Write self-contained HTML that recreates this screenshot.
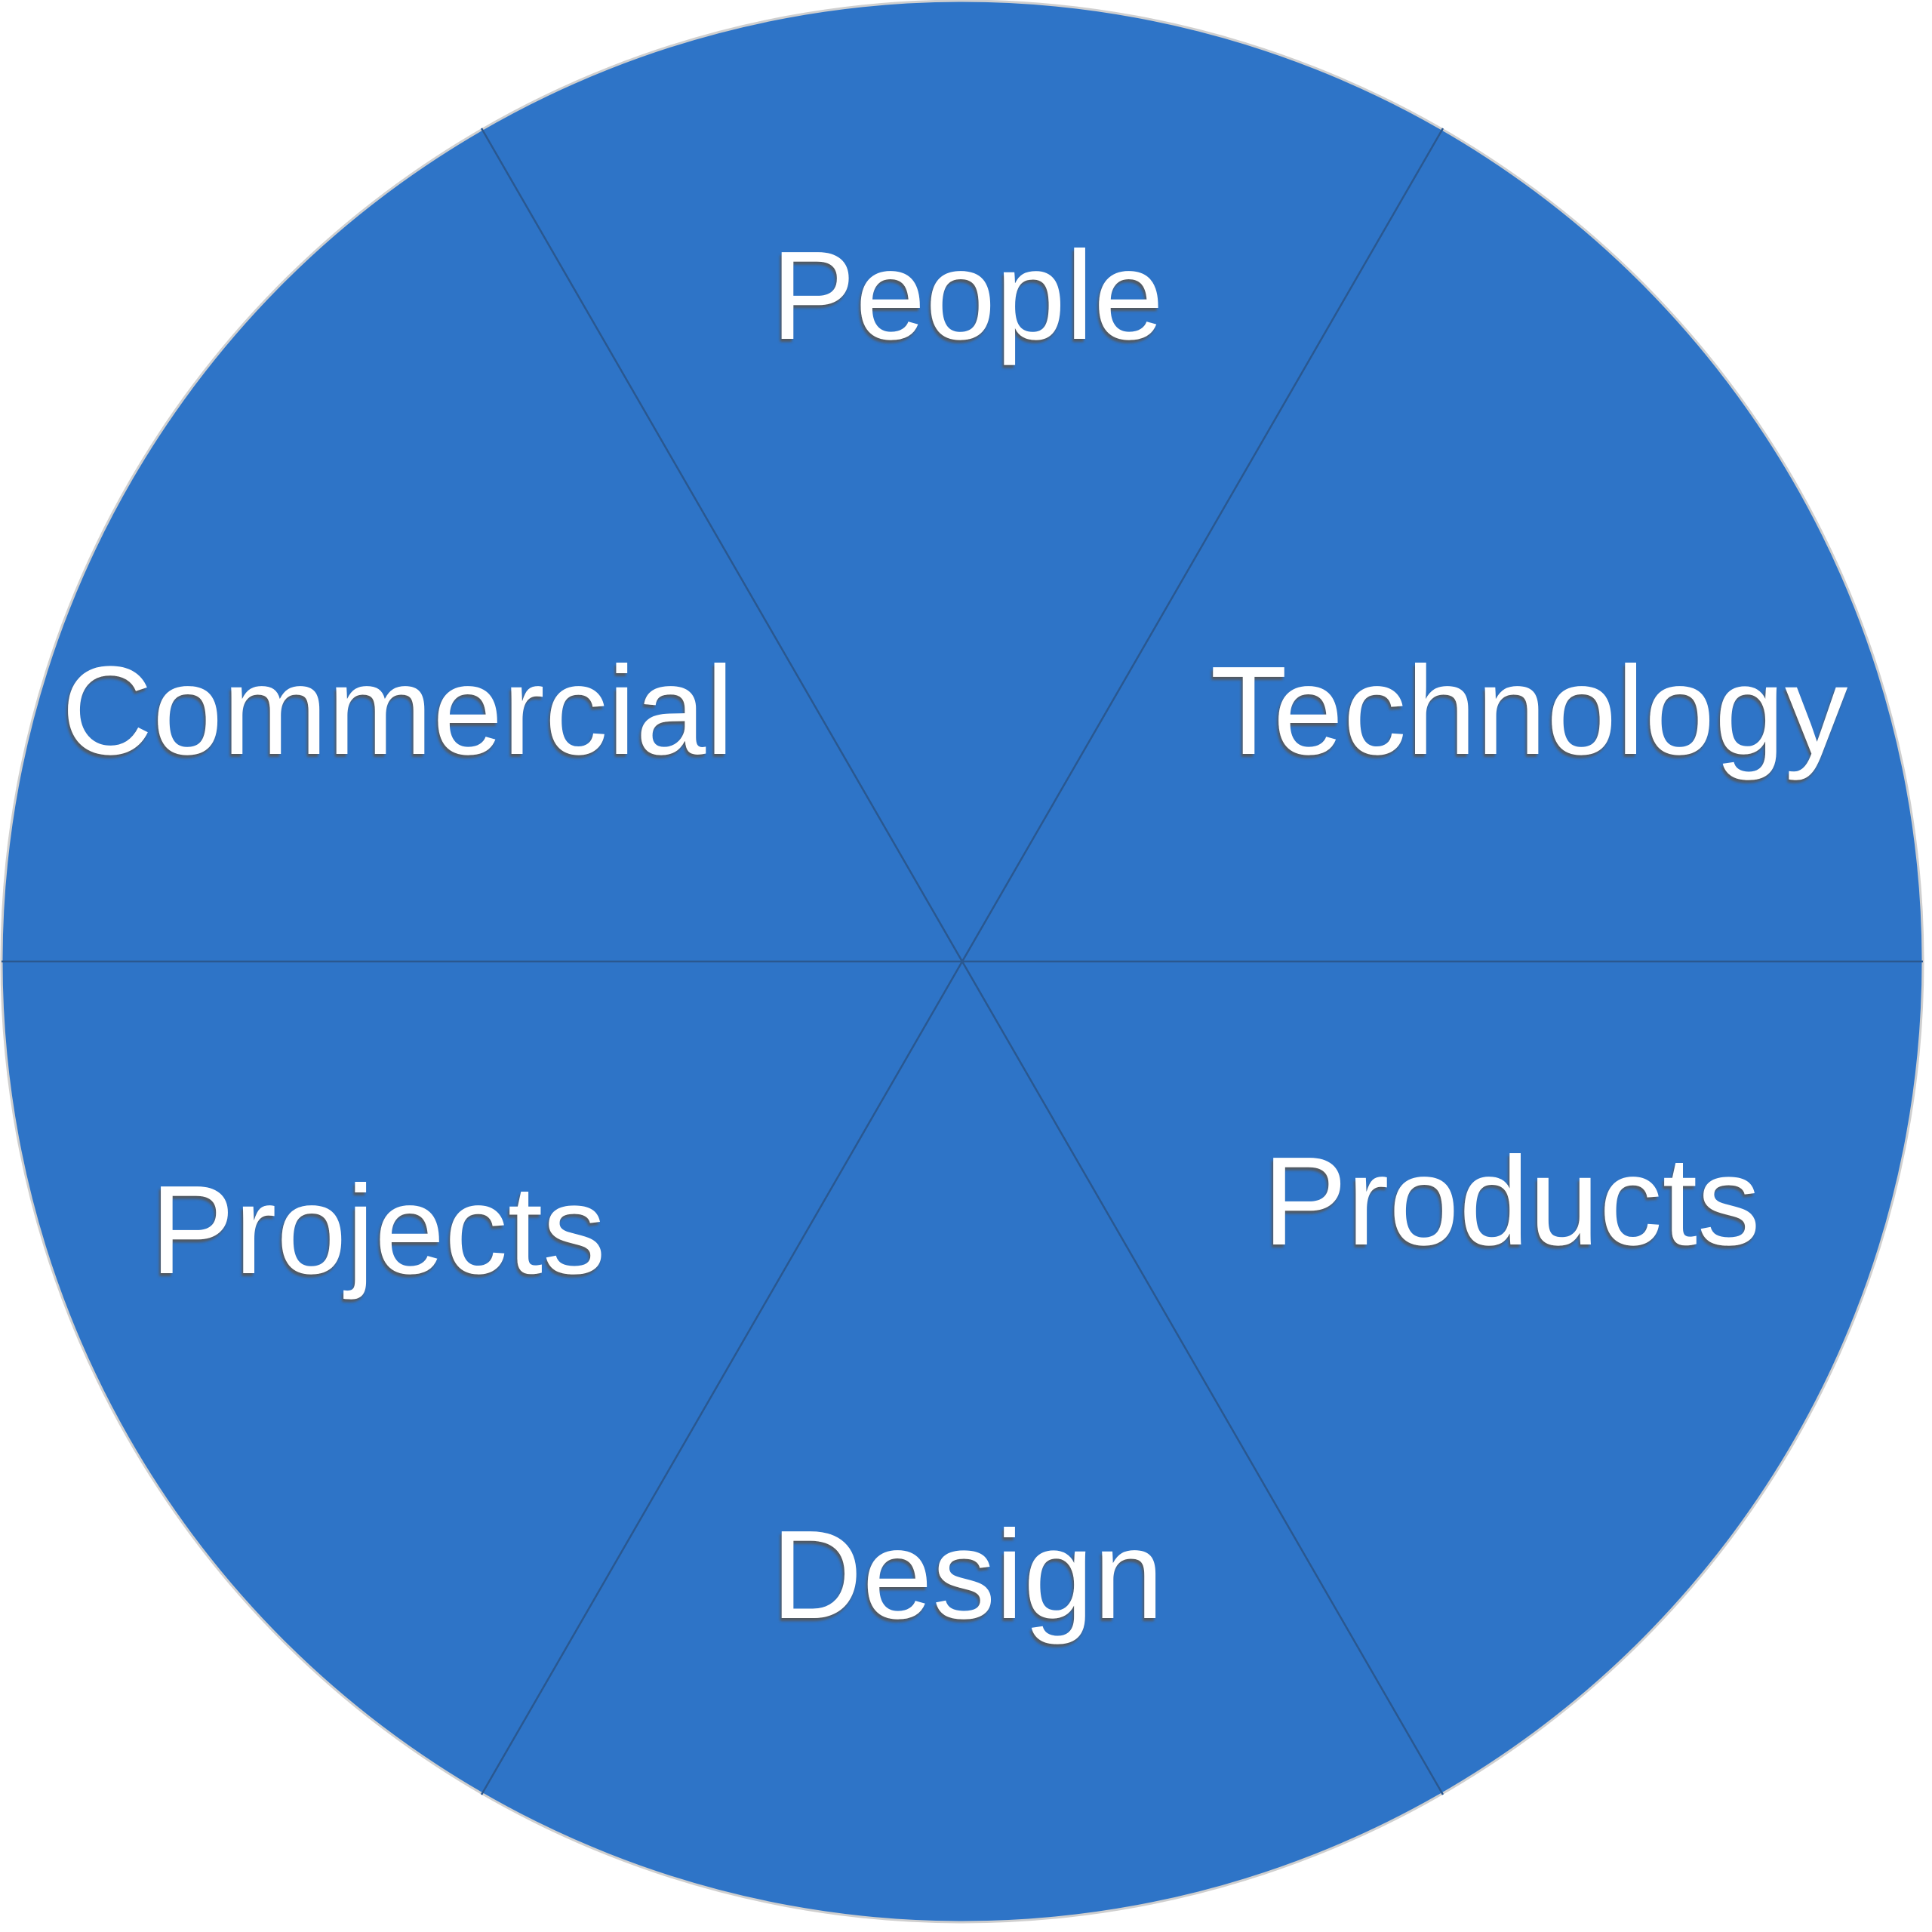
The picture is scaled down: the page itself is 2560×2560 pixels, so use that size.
<!DOCTYPE html>
<html><head><style>html,body{margin:0;padding:0;background:#fff}svg{display:block}</style></head>
<body>
<svg width="2560" height="2560" viewBox="0 0 2560 2560" xmlns="http://www.w3.org/2000/svg">
<defs>
<filter id="s" x="-10%" y="-10%" width="120%" height="130%">
<feDropShadow dx="-2" dy="4" stdDeviation="1.5" flood-color="#555" flood-opacity="0.9"/>
</filter>
</defs>
<circle cx="1275" cy="1274" r="1273" fill="#2E74C7" stroke="#cfcfcf" stroke-width="3"/>
<g stroke="#2a5890" stroke-width="2.5">
<line x1="2" y1="1274" x2="2548" y2="1274"/>
<line x1="638" y1="170" x2="1912" y2="2378"/>
<line x1="1912" y1="170" x2="638" y2="2378"/>
</g>
<g font-family="Liberation Sans, Arial, sans-serif" font-size="167" fill="#fff" text-anchor="middle" filter="url(#s)">
<text x="1282" y="449">People</text>
<text x="527" y="999">Commercial</text>
<text x="2026" y="999">Technology</text>
<text x="501" y="1687">Projects</text>
<text x="2003" y="1649">Products</text>
<text x="1282" y="2144">Design</text>
</g>
</svg>
</body></html>
